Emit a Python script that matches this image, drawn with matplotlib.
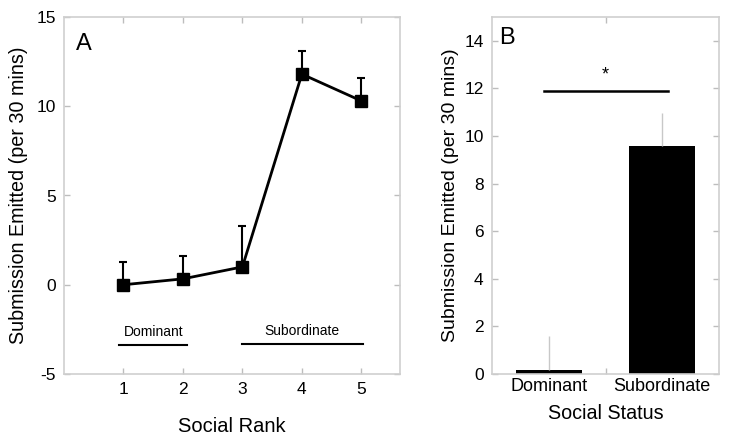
import matplotlib.pyplot as plt
import numpy as np

plt.rcParams['font.family'] = ['Liberation Sans', 'DejaVu Sans']
plt.rcParams['axes.unicode_minus'] = False

# Panel A data
ranks = [1, 2, 3, 4, 5]
rank_means = [0.0, 0.33, 1.0, 11.8, 10.3]
rank_err = [1.3, 1.3, 2.3, 1.3, 1.3]

# Panel B data
status = ['Dominant', 'Subordinate']
status_means = [0.15, 9.6]
status_err = [1.45, 1.35]

frame_col = '#cfcfcf'
tick_col = '#bdbdbd'


def style_axes(ax):
    for sp in ax.spines.values():
        sp.set_color(frame_col)
        sp.set_linewidth(1.2)
    ax.tick_params(direction='in', top=True, right=True, color=tick_col,
                   length=4, width=1, labelsize=12.5, pad=6)


fig = plt.figure(figsize=(7.29, 4.36), dpi=100)

# Panel A
ax1 = fig.add_axes([64 / 729, 62 / 436, 336 / 729, 357 / 436])
ax1.errorbar(ranks, rank_means, yerr=[np.zeros(5), rank_err], fmt='s-', color='black',
             markersize=8, linewidth=2, elinewidth=1.5, capsize=3, capthick=1.5)
ax1.set_xlim(0, 5.65)
ax1.set_ylim(-5, 15)
ax1.set_xticks(ranks)
ax1.set_yticks([-5, 0, 5, 10, 15])
style_axes(ax1)
ax1.set_xlabel('Social Rank', fontsize=14.5, labelpad=14)
ax1.set_ylabel('Submission Emitted (per 30 mins)', fontsize=14.2, labelpad=6)
ax1.text(0.2, 13.5, 'A', fontsize=17, ha='left', va='center')
ax1.plot([0.93, 2.07], [-3.4, -3.4], color='black', linewidth=1.5)
ax1.text(1.5, -2.65, 'Dominant', fontsize=10, ha='center', va='center')
ax1.plot([3.0, 5.02], [-3.3, -3.3], color='black', linewidth=1.5)
ax1.text(4.0, -2.6, 'Subordinate', fontsize=10, ha='center', va='center')

# Panel B
ax2 = fig.add_axes([492 / 729, 62 / 436, 227 / 729, 357 / 436])
xpos = np.arange(len(status))
ax2.bar(xpos, status_means, width=0.58, color='black')
ax2.errorbar(xpos, status_means, yerr=[np.zeros(2), status_err], fmt='none',
             ecolor='#c8c8c8', elinewidth=1, capsize=0)
ax2.set_xlim(-0.5, 1.5)
ax2.set_ylim(0, 15)
ax2.set_yticks(np.arange(0, 15, 2))
ax2.set_xticks([0.5])
ax2.set_xticklabels([''])
ax2.set_xticks(xpos, minor=True)
ax2.set_xticklabels(status, minor=True)
style_axes(ax2)
ax2.tick_params(axis='x', which='minor', length=0, labelsize=13, pad=3)
ax2.set_xlabel('Social Status', fontsize=14.2, labelpad=6)
ax2.set_ylabel('Submission Emitted (per 30 mins)', fontsize=14, labelpad=4)
ax2.text(-0.44, 14.1, 'B', fontsize=17, ha='left', va='center')
ax2.plot([-0.04, 1.05], [11.9, 11.9], color='black', linewidth=1.8)
ax2.text(0.5, 12.2, '*', fontsize=13, ha='center', va='bottom')

fig.savefig('out.png', dpi=100)
